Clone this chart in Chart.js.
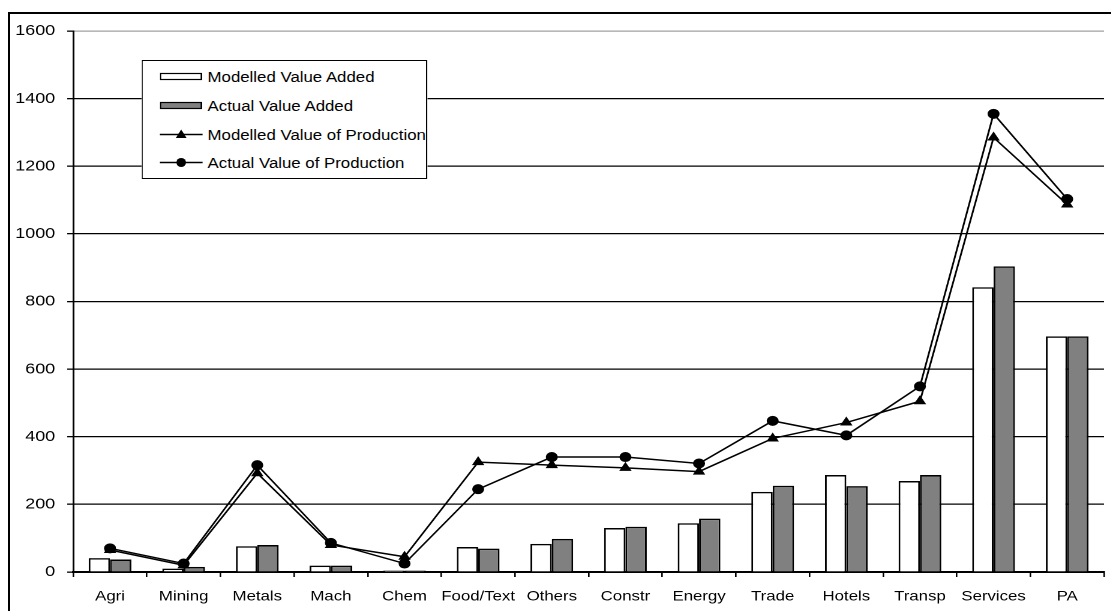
<!DOCTYPE html>
<html>
<head>
<meta charset="utf-8">
<script src="https://cdn.jsdelivr.net/npm/chart.js@4/dist/chart.umd.min.js"></script>
<style>
  html, body { margin: 0; padding: 0; background: #fff; width: 1111px; height: 611px; overflow: hidden; }
  #frame { position: absolute; left: 8px; top: 12px; width: 1200px; height: 700px; border: 2px solid #000; box-sizing: border-box; }
  #wrap { position: absolute; left: 0; top: 0; width: 926px; height: 611px; transform: scaleX(1.2); transform-origin: 0 0; }
  #chart { position: absolute; left: 0; top: 0; }
  #legend { position: absolute; left: 118px; top: 60px; width: 238px; height: 119px; border: 1.5px solid #000; box-sizing: border-box; background: #fff;
            font-family: "Liberation Sans", Arial, sans-serif; font-size: 14px; color: #000; }
  .row { position: absolute; left: 0; height: 20px; width: 100%; }
  .row svg { position: absolute; left: 14px; top: 0; }
  .row span { position: absolute; left: 54px; top: 2px; line-height: 16px; white-space: nowrap; }
</style>
</head>
<body>
<div id="frame"></div>
<div id="wrap">
  <canvas id="chart" width="926" height="611" style="width:926px;height:611px"></canvas>
  <div id="legend"></div>
</div>
<script>
const categories = ['Agri','Mining','Metals','Mach','Chem','Food/Text','Others','Constr','Energy','Trade','Hotels','Transp','Services','PA'];
const modelledValueAdded = [41, 10, 76, 19, 4, 74, 83, 130, 144, 237, 287, 269, 842, 697];
const actualValueAdded   = [37, 15, 80, 19, 4, 69, 98, 134, 158, 255, 254, 287, 904, 697];
const modelledValueProd  = [65, 20, 292, 80, 45, 325, 316, 308, 297, 395, 442, 505, 1285, 1087];
const actualValueProd    = [70, 25, 316, 86, 25, 245, 340, 340, 321, 447, 404, 549, 1355, 1103];
const seriesNames = ['Modelled Value Added', 'Actual Value Added', 'Modelled Value of Production', 'Actual Value of Production'];
const yTicks = [0, 200, 400, 600, 800, 1000, 1200, 1400, 1600];

const FONT = '"Liberation Sans", Arial, sans-serif';

new Chart(document.getElementById('chart'), {
  type: 'bar',
  data: {
    labels: categories,
    datasets: [
      { type: 'bar', label: seriesNames[0], data: modelledValueAdded, backgroundColor: '#ffffff', borderColor: '#000', borderWidth: 1.5, order: 2,
        barPercentage: 1.0, categoryPercentage: 0.58 },
      { type: 'bar', label: seriesNames[1], data: actualValueAdded, backgroundColor: '#808080', borderColor: '#000', borderWidth: 1.5, order: 2,
        barPercentage: 1.0, categoryPercentage: 0.58 },
      { type: 'line', label: seriesNames[2], data: modelledValueProd, borderColor: '#000', borderWidth: 1.5, tension: 0, fill: false,
        pointStyle: 'triangle', pointRadius: 5, pointBackgroundColor: '#000', pointBorderColor: '#000', pointBorderWidth: 1, order: 1 },
      { type: 'line', label: seriesNames[3], data: actualValueProd, borderColor: '#000', borderWidth: 1.5, tension: 0, fill: false,
        pointStyle: 'circle', pointRadius: 4.5, pointBackgroundColor: '#000', pointBorderColor: '#000', pointBorderWidth: 1, order: 1 }
    ]
  },
  options: {
    responsive: false,
    animation: false,
    devicePixelRatio: 2,
    layout: { padding: { top: 31, left: 0, right: 0, bottom: 0 } },
    plugins: { legend: { display: false }, tooltip: { enabled: false }, title: { display: false } },
    scales: {
      x: {
        offset: true,
        grid: { display: true, drawOnChartArea: false, drawTicks: true, tickLength: 5, color: '#000', lineWidth: 1.3, offset: true },
        border: { display: true, color: '#000', width: 2 },
        ticks: { color: '#000', font: { family: FONT, size: 14 }, padding: 11, maxRotation: 0, autoSkip: false },
        afterFit: (s) => { s.height = 39; }
      },
      y: {
        min: 0, max: 1600,
        afterBuildTicks: (s) => { s.ticks = yTicks.map(v => ({ value: v })); },
        grid: { color: (c) => (c.tick && c.tick.value === 1600) ? '#a0a0a0' : '#000', lineWidth: 1.3, tickLength: 5, tickColor: '#000', drawTicks: true },
        border: { display: true, color: '#000', width: 1.5 },
        ticks: { color: '#000', font: { family: FONT, size: 15 }, padding: 10, callback: (v) => String(v) },
        afterFit: (s) => { s.width = 61; }
      }
    }
  }
});

// legend
const legend = document.getElementById('legend');
const rowTops = [6, 35, 64, 92];
const swatches = [
  '<rect x="0.75" y="6.5" width="34" height="6" fill="#fff" stroke="#000" stroke-width="1.2"/>',
  '<rect x="0.75" y="6.5" width="34" height="6" fill="#808080" stroke="#000" stroke-width="1.2"/>',
  '<line x1="0" y1="9.5" x2="36" y2="9.5" stroke="#000" stroke-width="1.3"/><polygon points="18,4.5 22.5,13 13.5,13" fill="#000"/>',
  '<line x1="0" y1="9.5" x2="36" y2="9.5" stroke="#000" stroke-width="1.3"/><ellipse cx="18" cy="9.5" rx="4" ry="4.5" fill="#000"/>'
];
seriesNames.forEach((name, i) => {
  const row = document.createElement('div');
  row.className = 'row';
  row.style.top = rowTops[i] + 'px';
  row.innerHTML = '<svg width="36" height="20" viewBox="0 0 36 20">' + swatches[i] + '</svg><span>' + name + '</span>';
  legend.appendChild(row);
});
</script>
</body>
</html>
